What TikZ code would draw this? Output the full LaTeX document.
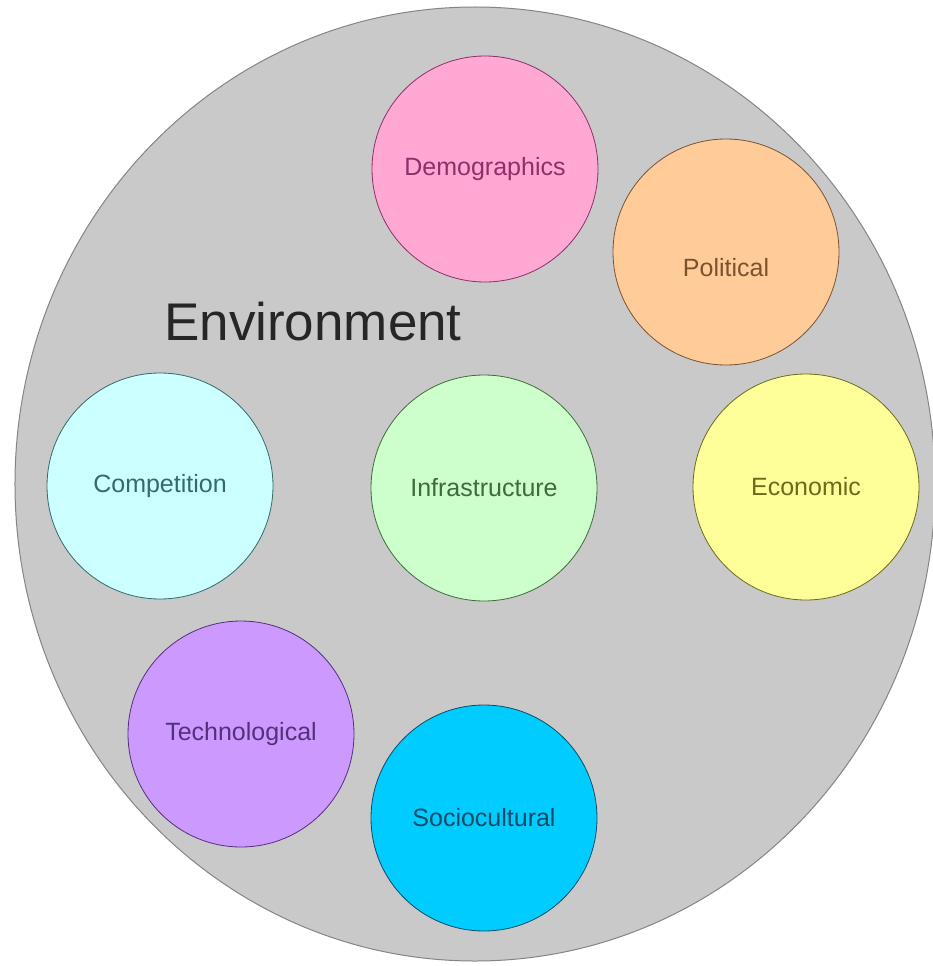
\documentclass[tikz,border=0pt]{standalone}
\usepackage{fontspec}
\setmainfont{Liberation Sans}

\definecolor{envgray}{HTML}{C9C9C9}
\definecolor{envline}{HTML}{858585}
\definecolor{demofill}{HTML}{FFA8D4}
\definecolor{demoline}{HTML}{8F2F6B}
\definecolor{polfill}{HTML}{FFCC99}
\definecolor{polline}{HTML}{7A5230}
\definecolor{compfill}{HTML}{CCFFFF}
\definecolor{compline}{HTML}{336B6B}
\definecolor{infrafill}{HTML}{CCFFCC}
\definecolor{infraline}{HTML}{3F6B3F}
\definecolor{econfill}{HTML}{FFFF99}
\definecolor{econline}{HTML}{6B6B1A}
\definecolor{techfill}{HTML}{CC99FF}
\definecolor{techline}{HTML}{55307A}
\definecolor{sociofill}{HTML}{00CCFF}
\definecolor{socioline}{HTML}{0F4A66}

\begin{document}
\begin{tikzpicture}[
        x=1bp, y=-1bp,
        factor/.style 2 args={circle, fill=#1, draw=#2, text=#2, line width=0.8bp,
            minimum size=226bp, inner sep=0pt, font=\fontsize{25bp}{30bp}\selectfont},
        factortext/.style={inner sep=0pt, text=#1, font=\fontsize{25bp}{30bp}\selectfont},
    ]
        \useasboundingbox (0,0) rectangle (933,966);
        \fill[white] (0,0) rectangle (933,966);

        % the surrounding environment
        \draw[fill=envgray, draw=envline, line width=1bp] (475,484) ellipse [x radius=460bp, y radius=477bp];
        \node[anchor=base, inner sep=0pt, font=\fontsize{53bp}{60bp}\selectfont, text=black!85] (env) at (313,340) {Environment};

        % factors
        \node[factor={demofill}{demoline}] (demo) at (485,169) {Demographics};
        \node[factor={polfill}{polline}] (pol) at (726,252) {};
        \node[factortext=polline] (poltext) at ([yshift=-16bp]pol.center) {Political};
        \node[factor={compfill}{compline}] (comp) at (160,486) {Competition};
        \node[factor={infrafill}{infraline}] (infra) at (484,488) {Infrastructure};
        \node[factor={econfill}{econline}] (econ) at (806,487) {Economic};
        \node[factor={techfill}{techline}] (tech) at (241,734) {Technological};
        \node[factor={sociofill}{socioline}] (socio) at (484,818) {Sociocultural};
    \end{tikzpicture}
\end{document}
